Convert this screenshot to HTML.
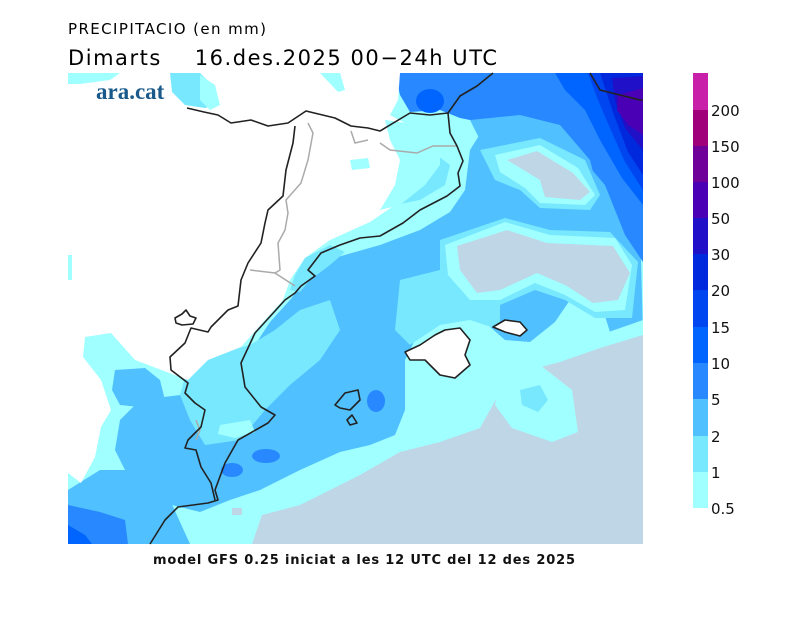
<!DOCTYPE html>
<html><head><meta charset="utf-8"><style>
body{margin:0;background:#fff;width:800px;height:617px;overflow:hidden;font-family:"DejaVu Sans","Liberation Sans",sans-serif}
</style></head><body>
<svg width="800" height="617" viewBox="0 0 800 617" xmlns="http://www.w3.org/2000/svg">
<defs><clipPath id="m"><rect x="68" y="73" width="575" height="471"/></clipPath></defs>
<text x="68" y="34" font-size="15" font-family="DejaVu Sans,sans-serif" textLength="198" lengthAdjust="spacing">PRECIPITACIO (en mm)</text>
<text x="68" y="65" font-size="21" font-family="DejaVu Sans,sans-serif" xml:space="preserve" textLength="429" lengthAdjust="spacing">Dimarts    16.des.2025 00−24h UTC</text>
<g clip-path="url(#m)">
<rect x="68" y="73" width="575" height="471" fill="#a0ffff"/>
<path fill="#50c0ff" d="M290,300 L320,262 380,245 420,230 450,212 465,190 470,150 490,118 540,108 590,118 620,160 640,220 643,335 610,332 600,300 570,300 555,322 530,342 505,340 480,318 450,322 420,330 405,360 405,410 395,435 370,445 340,452 300,470 260,490 230,500 200,512 160,502 130,480 115,450 120,420 140,400 180,395 215,392 235,378 255,345 270,322Z"/>
<path fill="#50c0ff" d="M68,490 L100,470 140,470 170,500 190,544 68,544Z"/>
<path fill="#50c0ff" d="M115,370 L145,368 160,380 165,400 150,408 120,405 112,390Z"/>
<path fill="#78e8ff" d="M190,360 L250,345 275,330 300,310 330,300 340,330 320,360 290,385 265,410 240,440 205,445 190,420 180,395Z"/>
<path fill="#78e8ff" d="M400,280 L440,270 480,285 500,300 500,330 470,320 440,325 410,345 395,330Z"/>
<path fill="#78e8ff" d="M400,150 L430,150 450,165 445,185 420,200 395,205 385,180Z"/>
<path fill="#a0ffff" d="M220,425 L250,420 255,432 235,438 218,434Z"/>
<path fill="#2888ff" d="M395,73 L643,73 643,262 625,235 605,185 575,150 545,128 510,120 480,122 460,118 440,110 410,112 400,95Z"/>
<path fill="#50c0ff" d="M470,120 L520,115 560,125 590,160 600,200 580,220 550,215 520,190 500,160 480,140Z"/>
<path fill="#0064ff" d="M555,73 L643,73 643,205 622,178 600,140 585,110 565,90Z"/>
<ellipse cx="430" cy="101" rx="14" ry="12" fill="#0064ff"/>
<path fill="#0046f0" d="M588,73 L643,73 643,190 625,162 610,128 598,100Z"/>
<path fill="#0028dc" d="M600,73 L643,73 643,175 628,152 614,115Z"/>
<path fill="#2010c8" d="M612,78 L643,76 643,150 625,128 615,100Z"/>
<path fill="#4a00b4" d="M618,95 L643,88 643,135 628,125 617,110Z"/>
<path fill="#78e8ff" d="M480,150 L540,138 585,160 600,195 590,210 540,208 520,190 495,180Z"/>
<path fill="#a0ffff" d="M495,155 L540,145 578,168 595,195 585,205 540,203 525,188 500,172Z"/>
<path fill="#bed6e6" d="M507,160 L537,151 573,173 590,192 580,200 545,197 540,180Z"/>
<path fill="#78e8ff" d="M440,240 L505,218 550,230 610,232 638,262 632,318 595,318 565,300 535,290 500,305 468,305 440,278Z"/>
<path fill="#a0ffff" d="M445,245 L505,222 550,235 615,238 632,265 625,310 595,312 565,295 535,283 500,300 470,300 448,275Z"/>
<path fill="#bed6e6" d="M457,246 L507,230 547,243 613,246 630,273 618,300 593,303 567,286 537,273 500,290 477,293 460,270Z"/>
<path fill="#a0ffff" d="M240,544 L250,505 300,490 360,462 400,440 440,425 480,410 495,380 520,360 560,350 600,335 643,320 643,544Z"/>
<path fill="#bed6e6" d="M252,544 L262,515 300,505 360,475 400,452 440,442 480,428 500,392 522,372 560,362 600,348 643,335 643,544Z"/>
<path fill="#a0ffff" d="M500,380 L540,365 572,390 578,432 552,442 512,428 495,405Z"/>
<path fill="#78e8ff" d="M520,390 L540,385 548,400 538,412 522,405Z"/>
<rect x="232" y="508" width="10" height="7" fill="#bed6e6"/>
<path fill="#2888ff" d="M68,505 L100,512 125,520 128,544 68,544Z"/>
<path fill="#0064ff" d="M68,525 L85,535 92,544 68,544Z"/>
<ellipse cx="376" cy="401" rx="9" ry="11" fill="#2888ff"/>
<ellipse cx="266" cy="456" rx="14" ry="7" fill="#2888ff"/>
<ellipse cx="232" cy="470" rx="11" ry="7" fill="#2888ff"/>
<path fill="#fff" d="M68,73 L400,73 398,100 390,115 418,130 435,145 428,170 405,198 370,222 330,240 305,258 290,280 283,300 265,320 241,347 208,360 188,380 135,360 111,333 85,337 83,357 101,380 111,410 101,427 95,457 81,483 68,473Z"/>
<path fill="#a0ffff" d="M68,73 L120,73 110,80 80,84 68,84Z"/>
<path fill="#78e8ff" d="M170,73 L200,73 212,85 218,104 205,108 185,105 172,92Z"/>
<path fill="#a0ffff" d="M200,75 L215,85 220,105 210,110 200,100Z"/>
<path fill="#a0ffff" d="M320,73 L340,73 345,90 338,92Z"/>
<path fill="#a0ffff" d="M350,160 L368,158 370,168 352,170Z"/>
<path fill="#a0ffff" d="M385,120 L420,125 440,140 440,165 425,185 400,205 380,210 395,185 400,160 390,140Z"/>
<path fill="#78e8ff" d="M305,258 L330,245 345,252 330,265 310,280 300,292 290,290 295,275Z"/>
<path fill="#a0ffff" d="M68,255 L72,255 72,280 68,280Z"/>
</g>
<g fill="none" stroke="#aaa" stroke-width="1.5">
<path d="M308,123 L313,133 308,160 301,183 286,200 288,213 285,230 278,243 280,270 275,273 295,286"/>
<path d="M250,270 L275,273"/>
<path d="M380,143 L390,150 417,153 433,146 457,146"/>
<path d="M351,131 L355,143 368,140"/>
<path d="M196,420 L200,430 196,440"/>
</g>
<g fill="none" stroke="#222" stroke-width="1.6" stroke-linejoin="round">
<path d="M187,108 L204,112 218,115 231,123 251,120 268,126 288,123 306,111 335,118 351,126 368,128 380,131 410,113 430,115 448,113 460,96 477,86 493,73"/>
<path d="M448,113 L450,133 457,146 463,161 458,173 460,186 447,196 420,210 403,223 380,236 360,238 340,245 321,253 308,270 315,276 301,286 295,293 285,300 255,333 241,363 245,387 261,407 275,415 268,423 238,440 225,463 215,490 218,500 208,503 178,507 165,520 150,544"/>
<path d="M590,73 L600,90 620,95 640,100 643,100"/>
<path d="M295,126 L293,143 286,170 283,196 268,210 265,223 261,243 248,263 241,280 238,306 228,310 211,327 208,332 191,328 185,343 170,357 171,370 188,383 185,393 195,403 205,410 201,427 188,440 185,448 196,450 201,467 211,483 215,500"/>
<path d="M175,318 L182,314 186,310 190,316 196,318 193,324 182,325 176,323Z"/>
<path fill="#fff" d="M405,352 L420,345 435,335 445,330 460,328 470,340 465,355 470,365 455,378 440,375 425,360 410,360Z"/>
<path fill="#fff" d="M493,327 L505,320 520,322 527,330 520,336 505,332Z"/>
<path d="M335,405 L345,393 358,390 360,400 350,410 340,408Z"/>
<path d="M347,420 L352,415 357,423 350,425Z"/>
</g>
<text x="96" y="99" font-size="23" font-weight="bold" font-family="Liberation Serif,serif" fill="#1a5a8a">ara.cat</text>
<text x="153" y="564" font-size="13" font-weight="bold" font-family="DejaVu Sans,sans-serif" fill="#111" textLength="422" lengthAdjust="spacing">model GFS 0.25 iniciat a les 12 UTC del 12 des 2025</text>
<g>
<rect x="693" y="73" width="15" height="37" fill="#c820a8"/>
<rect x="693" y="110" width="15" height="36" fill="#a0007a"/>
<rect x="693" y="146" width="15" height="36" fill="#70009a"/>
<rect x="693" y="182" width="15" height="36" fill="#4a00b4"/>
<rect x="693" y="218" width="15" height="36" fill="#2010c8"/>
<rect x="693" y="254" width="15" height="36" fill="#0028dc"/>
<rect x="693" y="290" width="15" height="37" fill="#0046f0"/>
<rect x="693" y="327" width="15" height="36" fill="#0064ff"/>
<rect x="693" y="363" width="15" height="36" fill="#2888ff"/>
<rect x="693" y="399" width="15" height="37" fill="#50c0ff"/>
<rect x="693" y="436" width="15" height="36" fill="#78e8ff"/>
<rect x="693" y="472" width="15" height="36" fill="#a0ffff"/>
</g>
<g font-size="15" font-family="DejaVu Sans,sans-serif" fill="#111">
<text x="711" y="116">200</text><text x="711" y="152">150</text><text x="711" y="188">100</text>
<text x="711" y="224">50</text><text x="711" y="260">30</text><text x="711" y="296">20</text>
<text x="711" y="333">15</text><text x="711" y="369">10</text><text x="711" y="405">5</text>
<text x="711" y="442">2</text><text x="711" y="478">1</text><text x="711" y="514">0.5</text>
</g>
</svg>
</body></html>
